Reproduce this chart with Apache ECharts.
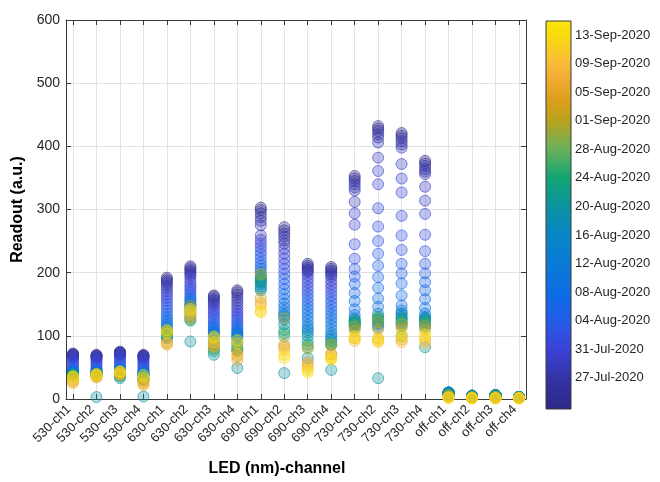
<!DOCTYPE html>
<html><head><meta charset="utf-8">
<script src="https://cdn.jsdelivr.net/npm/echarts@6/dist/echarts.min.js"></script>
<style>html,body{margin:0;padding:0;background:#fff}#c{width:660px;height:482px}</style>
</head><body><div id="c"></div>
<script>
const categories = ['530-ch1','530-ch2','530-ch3','530-ch4','630-ch1','630-ch2','630-ch3','630-ch4',
  '690-ch1','690-ch2','690-ch3','690-ch4','730-ch1','730-ch2','730-ch3','730-ch4',
  'off-ch1','off-ch2','off-ch3','off-ch4'];
const dates = ['2020-07-23','2020-07-24','2020-07-25','2020-07-26','2020-07-27','2020-07-28',
  '2020-07-29','2020-07-30','2020-07-31','2020-08-01','2020-08-02','2020-08-03','2020-08-04','2020-08-05',
  '2020-08-06','2020-08-07','2020-08-08','2020-08-09','2020-08-10','2020-08-11','2020-08-12',
  '2020-08-14','2020-08-16','2020-08-18','2020-08-20','2020-08-22','2020-08-24','2020-08-27','2020-08-31',
  '2020-09-03','2020-09-06','2020-09-09','2020-09-12','2020-09-14'];
const r530ch1 = [72,71,70,69,68,67, 65,62,59,56,53,50,47, 45,44,43,42,42,41,41,40, 40,39,39,38,38,37,36,35,30,27,25,34,36];
const r530ch2 = [70,69,68,67,66,65, 63,60,57,54,51,48,46, 44,43,42,42,41,41,40,40, 40,39,39,3,38,38,38,40,36,34,36,38,39];
const r530ch3 = [75,74,73,72,71,70, 68,65,62,59,56,53,50, 48,47,46,46,45,45,44,44, 43,42,38,33,36,38,40,42,40,38,40,43,44];
const r530ch4 = [70,69,68,67,66,64, 62,59,56,53,50,47,45, 43,42,41,41,40,40,39,39, 38,37,34,4,32,30,30,31,26,24,22,34,38];
const r630ch1 = [192,189,186,183,179,175, 170,165,160,155,150,145,140,135,130,126,122,118,115,112,110, 106,100,98,96,102,104,106,108,90,86,88,104,109];
const r630ch2 = [210,207,204,201,198,195, 190,185,180,176,172,168,164,160,157,154,151,149,147,145,143, 140,136,130,91,126,124,140,148,132,128,136,140,143];
const r630ch3 = [164,162,159,156,153,150, 146,142,138,134,130,126,122,118,115,112,109,106,104,102,100, 96,92,88,70,76,80,84,88,82,84,90,96,99];
const r630ch4 = [172,169,165,160,155,150, 145,140,135,131,127,123,119,115,112,109,106,104,102,100,98, 95,90,85,49,80,78,76,76,68,62,70,88,93];
const r690ch1 = [303,299,294,288,282,275, 259,252,246,240,234,228,222,216,211,206,201,196,192,188,185, 182,178,175,172,185,190,196,198,160,152,148,140,137];
const r690ch2 = [272,267,262,257,251,246, 238,230,222,214,206,198,190,182,174,166,158,151,145,139,134, 131,126,118,41,109,104,99,128,86,82,78,70,65];
const r690ch3 = [214,211,208,205,203,201, 196,190,184,178,172,166,160,154,148,142,136,130,124,118,113, 109,105,100,65,92,86,82,80,58,54,50,46,42];
const r690ch4 = [209,206,203,200,197,194, 188,182,176,170,164,158,152,146,140,134,128,122,116,110,104, 100,96,92,46,88,85,86,86,72,70,66,64,62];
const r730ch1 = [353,349,345,340,335,330, 312,294,276,245,222,206,194,182,168,155,142,133,128,124,120, 116,112,122,118,125,120,117,114,108,96,92,96,99];
const r730ch2 = [432,428,424,419,414,406, 382,361,340,302,273,250,230,211,193,176,159,146,135,128,124, 118,114,120,33,125,130,128,122,110,96,92,90,95];
const r730ch3 = [421,417,413,408,403,398, 372,349,327,290,259,236,214,199,183,164,148,140,135,130,126, 120,116,135,100,128,124,120,118,112,94,90,98,102];
const r730ch4 = [377,373,369,364,360,356, 336,314,293,260,234,214,199,185,172,158,144,135,130,126,122, 118,114,128,82,125,122,119,116,110,94,88,98,102];
const roffch1 = [9,9,9,9,9,9, 9,9,9,9,9,10,10,10,10,10,10,10,10,10,10, 10,9,9,8,8,7,6,5,4,3,2,2,2];
const roffch2 = [5,5,5,5,5,5, 5,5,5,5,5,5,5,5,5,5,5,5,5,5,5, 5,5,5,5,4,4,3,3,2,2,1,1,1];
const roffch3 = [6,6,6,6,6,6, 6,6,6,6,6,6,6,6,6,6,6,6,6,6,6, 6,6,6,6,5,5,4,3,2,2,1,1,1];
const roffch4 = [3,3,3,3,3,3, 3,3,3,3,3,3,3,3,3,3,3,3,3,3,3, 3,3,3,3,3,3,2,2,2,1,1,1,1];
const readouts = [r530ch1,r530ch2,r530ch3,r530ch4,r630ch1,r630ch2,r630ch3,r630ch4,
  r690ch1,r690ch2,r690ch3,r690ch4,r730ch1,r730ch2,r730ch3,r730ch4,roffch1,roffch2,roffch3,roffch4];
const colorbarTickDates = ['2020-07-27','2020-07-31','2020-08-04','2020-08-08','2020-08-12','2020-08-16',
  '2020-08-20','2020-08-24','2020-08-28','2020-09-01','2020-09-05','2020-09-09','2020-09-13'];
const colorbarLimits = ['2020-07-22T14:24:00Z','2020-09-15T00:00:00Z'];

const cmap = [[0,'#2d2888'],[0.08,'#3433a6'],[0.155,'#3a42d6'],[0.2,'#2f52e2'],[0.24,'#1f60e8'],
  [0.3,'#0c6ce4'],[0.376,'#0a7bd6'],[0.45,'#0886c6'],[0.523,'#0a939e'],[0.597,'#12a672'],
  [0.671,'#6cb05a'],[0.745,'#bba21c'],[0.8,'#dea01c'],[0.85,'#f1ab32'],[0.892,'#f8bd38'],
  [0.966,'#f8dc0c'],[1,'#f8e60a']];

const DAY = 86400000, REF = Date.UTC(2020,6,22);
const toDay = s => (Date.parse(s) - REF) / DAY;
const MON = ['Jan','Feb','Mar','Apr','May','Jun','Jul','Aug','Sep','Oct','Nov','Dec'];
const fmtDay = d => { const t = new Date(REF + Math.round(d) * DAY);
  return String(t.getUTCDate()).padStart(2,'0') + '-' + MON[t.getUTCMonth()] + '-' + t.getUTCFullYear(); };
const cbMin = toDay(colorbarLimits[0]), cbMax = toDay(colorbarLimits[1]);
const hex = h => [1,3,5].map(i => parseInt(h.substr(i,2),16));
function colorAt(p) {
  p = Math.max(0, Math.min(1, p));
  for (let k = 1; k < cmap.length; k++) {
    if (p <= cmap[k][0]) {
      const a = hex(cmap[k-1][1]), b = hex(cmap[k][1]);
      const t = (p - cmap[k-1][0]) / (cmap[k][0] - cmap[k-1][0]);
      return a.map((v,i) => Math.round(v + (b[i]-v)*t)).join(',');
    }
  }
  return hex(cmap[cmap.length-1][1]).join(',');
}
const catIdx = categories.map((c,i) => i+1);
const points = [];
dates.forEach((d, j) => {
  const day = toDay(d);
  const c = colorAt((day - cbMin) / (cbMax - cbMin));
  readouts.forEach((arr, i) => {
    points.push({ value: [i+1, arr[j], day],
      itemStyle: { color: `rgba(${c},0.4)`, borderColor: `rgba(${c},0.75)`, borderWidth: 1 } });
  });
});

const FONT = '"Liberation Sans", Arial, Helvetica, sans-serif';
const AX = '#3a3a3a', TXT = '#262626', GRID = '#e2e2e2';
const chart = echarts.init(document.getElementById('c'), null, { renderer: 'canvas' });
chart.setOption({
  animation: false,
  textStyle: { fontFamily: FONT },
  grid: [
    { left: 66, top: 20, width: 460, height: 381 },
    { left: 546, top: 21, width: 25, height: 388 }
  ],
  xAxis: [
    { gridIndex: 0, type: 'value', min: 0.7, max: 20.3, position: 'bottom',
      axisLine: { show: true, onZero: false, lineStyle: { color: AX, width: 1 } },
      axisTick: { show: true, inside: true, length: 5, customValues: catIdx, lineStyle: { color: AX } },
      axisLabel: { customValues: catIdx, formatter: v => categories[Math.round(v)-1] || '', rotate: 45,
        fontSize: 13, color: TXT, margin: 4, padding: [0, 6, 0, 0], fontFamily: FONT },
      splitLine: { show: true, lineStyle: { color: GRID, width: 1 } },
      name: 'LED (nm)-channel', nameLocation: 'middle', nameGap: 62,
      nameTextStyle: { fontSize: 16, fontWeight: 'bold', color: '#000', fontFamily: FONT, padding: [0, 38, 0, 0] } },
    { gridIndex: 0, type: 'value', min: 0.7, max: 20.3, position: 'top',
      axisLine: { show: true, onZero: false, lineStyle: { color: AX, width: 1 } },
      axisTick: { show: true, inside: true, length: 5, customValues: catIdx, lineStyle: { color: AX } },
      axisLabel: { show: false }, splitLine: { show: false } },
    { gridIndex: 1, type: 'value', min: 0, max: 1, show: false }
  ],
  yAxis: [
    { gridIndex: 0, type: 'value', min: 0, max: 600, interval: 100, position: 'left',
      axisLine: { show: true, onZero: false, lineStyle: { color: AX, width: 1 } },
      axisTick: { show: true, inside: true, length: 5, lineStyle: { color: AX } },
      axisLabel: { fontSize: 14, color: TXT, margin: 6, fontFamily: FONT },
      splitLine: { show: true, lineStyle: { color: GRID, width: 1 } },
      name: 'Readout (a.u.)', nameLocation: 'middle', nameGap: 39,
      nameTextStyle: { fontSize: 16, fontWeight: 'bold', color: '#000', fontFamily: FONT } },
    { gridIndex: 0, type: 'value', min: 0, max: 600, interval: 100, position: 'right',
      axisLine: { show: true, onZero: false, lineStyle: { color: AX, width: 1 } },
      axisTick: { show: true, inside: true, length: 5, lineStyle: { color: AX } },
      axisLabel: { show: false }, splitLine: { show: false } },
    { gridIndex: 1, type: 'value', min: cbMin, max: cbMax, position: 'right',
      axisLine: { show: false },
      axisTick: { show: true, inside: false, length: 3, customValues: colorbarTickDates.map(toDay), lineStyle: { color: AX } },
      axisLabel: { customValues: colorbarTickDates.map(toDay), formatter: v => fmtDay(v),
        fontSize: 13, color: TXT, margin: 4, fontFamily: FONT },
      splitLine: { show: false } }
  ],
  series: [
    { type: 'scatter', xAxisIndex: 0, yAxisIndex: 0, symbol: 'circle', symbolSize: 11,
      data: points, emphasis: { disabled: true } },
    { type: 'custom', xAxisIndex: 2, yAxisIndex: 2, silent: true,
      data: [[0, cbMin, 1, cbMax]],
      renderItem: (params, api) => {
        const p0 = api.coord([api.value(0), api.value(3)]);
        const p1 = api.coord([api.value(2), api.value(1)]);
        return { type: 'rect', shape: { x: p0[0], y: p0[1], width: p1[0]-p0[0], height: p1[1]-p0[1] },
          style: { fill: new echarts.graphic.LinearGradient(0, 0, 0, 1,
            cmap.map(([p, c]) => ({ offset: 1 - p, color: c })).reverse()),
            stroke: AX, lineWidth: 1 } };
      } }
  ]
});
</script></body></html>
